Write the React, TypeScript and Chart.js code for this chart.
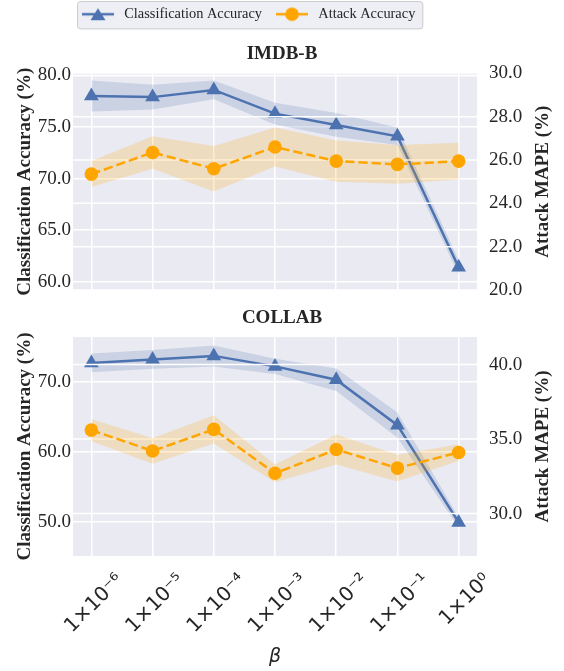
import React, { useEffect, useRef } from 'react';
import { Chart, registerables } from 'chart.js';

Chart.register(...registerables);

// ---------- data ----------
const betaLabels = ['1×10⁻⁶', '1×10⁻⁵', '1×10⁻⁴', '1×10⁻³', '1×10⁻²', '1×10⁻¹', '1×10⁰'];

const imdbCls = [78.0, 77.9, 78.6, 76.3, 75.2, 74.1, 61.4];
const imdbClsStd = [1.5, 1.2, 0.9, 1.05, 1.15, 0.85, 0.7];
const imdbAtk = [25.35, 26.35, 25.6, 26.6, 25.95, 25.8, 25.95];
const imdbAtkStd = [0.6, 0.75, 1.05, 0.9, 0.95, 0.9, 0.85];

const collabCls = [72.7, 73.2, 73.7, 72.2, 70.3, 63.8, 49.9];
const collabClsStd = [1.35, 1.35, 1.5, 1.1, 1.6, 1.8, 0.7];
const collabAtk = [35.6, 34.2, 35.65, 32.7, 34.3, 33.05, 34.1];
const collabAtkStd = [0.75, 0.85, 0.95, 0.6, 1.0, 0.9, 0.55];

const legendLabels = ['Classification Accuracy', 'Attack Accuracy'];
const leftTitle = 'Classification Accuracy (%)';
const rightTitle = 'Attack MAPE (%)';
const xTitle = 'β';

// ---------- style ----------
const BLUE = '#4C72B0';
const ORANGE = '#FFA500';
const BLUE_BAND = 'rgba(76,114,176,0.2)';
const ORANGE_BAND = 'rgba(255,165,0,0.2)';
const BG = '#EAEAF2';
const TEXT = '#262626';
const SERIF = '"Liberation Serif", "Times New Roman", serif';
const SANS = '"DejaVu Sans", sans-serif';

type Range = { min: number; max: number; step: number };

function makeSymbol(kind: 'tri' | 'circ'): HTMLCanvasElement {
  const c = document.createElement('canvas');
  c.width = 32;
  c.height = 18;
  const ctx = c.getContext('2d')!;
  const color = kind === 'tri' ? BLUE : ORANGE;
  ctx.strokeStyle = color;
  ctx.lineWidth = 2.5;
  ctx.beginPath();
  ctx.moveTo(0, 9);
  ctx.lineTo(32, 9);
  ctx.stroke();
  ctx.fillStyle = color;
  ctx.beginPath();
  if (kind === 'tri') {
    ctx.moveTo(16, 3);
    ctx.lineTo(23.5, 15);
    ctx.lineTo(8.5, 15);
    ctx.closePath();
  } else {
    ctx.arc(16, 9, 6.8, 0, Math.PI * 2);
  }
  ctx.fill();
  return c;
}

function pts(arr: number[]) {
  return arr.map((v, i) => ({ x: i, y: v }));
}
function band(arr: number[], std: number[], sign: number) {
  return arr.map((v, i) => ({ x: i, y: v + sign * std[i] }));
}

function buildChart(
  canvas: HTMLCanvasElement,
  p: {
    title: string;
    cls: number[];
    clsStd: number[];
    atk: number[];
    atkStd: number[];
    yL: Range;
    yR: Range;
    top: boolean;
  }
) {
  const decor = {
    id: 'decor',
    afterLayout(chart: any) {
      const L = chart.legend;
      if (p.top && L) {
        const w = L.right - L.left;
        L.left = 68;
        L.right = 68 + w;
        L.top -= 4;
        L.bottom -= 4;
      }
    },
    beforeDraw(chart: any) {
      const { ctx, chartArea: a } = chart;
      ctx.save();
      ctx.fillStyle = BG;
      ctx.fillRect(a.left, a.top, a.right - a.left, a.bottom - a.top);
      if (p.top && chart.legend && chart.legend.legendHitBoxes && chart.legend.legendHitBoxes.length) {
        const hb = chart.legend.legendHitBoxes;
        const x0 = hb[0].left - 2;
        const x1 = hb[hb.length - 1].left + hb[hb.length - 1].width + 7;
        const y0 = hb[0].top - 6;
        const y1 = hb[0].top + hb[0].height + 7;
        ctx.beginPath();
        (ctx as any).roundRect(x0 + 0.5, y0 + 0.5, x1 - x0, y1 - y0, 3);
        ctx.fillStyle = 'rgba(234,234,242,0.8)';
        ctx.fill();
        ctx.strokeStyle = '#CCCCCC';
        ctx.lineWidth = 1;
        ctx.stroke();
      }
      ctx.restore();
    },
    afterDatasetDraw(chart: any, args: any) {
      if (args.index !== 0) return;
      const { ctx, chartArea: a } = chart;
      const yR = chart.scales.yR;
      ctx.save();
      ctx.beginPath();
      ctx.rect(a.left, a.top, a.right - a.left, a.bottom - a.top);
      ctx.clip();
      ctx.strokeStyle = '#FFFFFF';
      ctx.lineWidth = 1.5;
      yR.ticks.forEach((t: any) => {
        const y = yR.getPixelForValue(t.value);
        ctx.beginPath();
        ctx.moveTo(a.left, y);
        ctx.lineTo(a.right, y);
        ctx.stroke();
      });
      ctx.restore();
    },
    afterDraw(chart: any) {
      const { ctx, chartArea: a } = chart;
      ctx.save();
      ctx.translate(543.5, (a.top + a.bottom) / 2);
      ctx.rotate(-Math.PI / 2);
      ctx.font = `bold 19px ${SERIF}`;
      ctx.fillStyle = TEXT;
      ctx.textAlign = 'center';
      ctx.textBaseline = 'middle';
      ctx.fillText(rightTitle, 0, 0);
      ctx.restore();
    },
  };

  const blueSym = makeSymbol('tri');
  const orangeSym = makeSymbol('circ');

  const gridOpts = { color: '#FFFFFF', lineWidth: 1.5, drawTicks: false };

  const cfg: any = {
    type: 'line',
    data: {
      datasets: [
        {
          label: legendLabels[0],
          data: pts(p.cls),
          yAxisID: 'yL',
          borderColor: BLUE,
          backgroundColor: BLUE,
          borderWidth: 2.5,
          pointStyle: 'triangle',
          pointRadius: 8.5,
          pointBackgroundColor: BLUE,
          pointBorderWidth: 0,
          fill: false,
          order: 30,
        },
        {
          label: legendLabels[1],
          data: pts(p.atk),
          yAxisID: 'yR',
          borderColor: ORANGE,
          backgroundColor: ORANGE,
          borderWidth: 2.5,
          borderDash: [9.25, 4],
          pointStyle: 'circle',
          pointRadius: 6.8,
          pointBackgroundColor: ORANGE,
          pointBorderWidth: 0,
          fill: false,
          order: 10,
        },
        {
          label: 'cls_up',
          data: band(p.cls, p.clsStd, 1),
          yAxisID: 'yL',
          borderWidth: 0,
          pointRadius: 0,
          backgroundColor: BLUE_BAND,
          fill: 3,
          order: 40,
        },
        {
          label: 'cls_lo',
          data: band(p.cls, p.clsStd, -1),
          yAxisID: 'yL',
          borderWidth: 0,
          pointRadius: 0,
          fill: false,
          order: 41,
        },
        {
          label: 'atk_up',
          data: band(p.atk, p.atkStd, 1),
          yAxisID: 'yR',
          borderWidth: 0,
          pointRadius: 0,
          backgroundColor: ORANGE_BAND,
          fill: 5,
          order: 20,
        },
        {
          label: 'atk_lo',
          data: band(p.atk, p.atkStd, -1),
          yAxisID: 'yR',
          borderWidth: 0,
          pointRadius: 0,
          fill: false,
          order: 21,
        },
      ],
    },
    options: {
      responsive: false,
      animation: false,
      events: [],
      layout: { autoPadding: false, padding: { left: 0, right: 0, top: 0, bottom: p.top ? 10 : 0 } },
      plugins: {
        tooltip: { enabled: false },
        legend: {
          display: p.top,
          position: 'top',
          align: 'start',
          weight: 3000,
          labels: {
            font: { family: SERIF, size: 14.4 },
            color: TEXT,
            padding: 11,
            usePointStyle: true,
            pointStyleWidth: 38,
            generateLabels: () => [
              {
                text: legendLabels[0],
                pointStyle: blueSym,
                fillStyle: 'transparent',
                strokeStyle: 'transparent',
                lineWidth: 0,
                hidden: false,
                datasetIndex: 0,
                fontColor: TEXT,
              },
              {
                text: legendLabels[1],
                pointStyle: orangeSym,
                fillStyle: 'transparent',
                strokeStyle: 'transparent',
                lineWidth: 0,
                hidden: false,
                datasetIndex: 1,
                fontColor: TEXT,
              },
            ],
          },
        },
        title: {
          display: true,
          text: p.title,
          weight: 500,
          color: TEXT,
          font: { family: SERIF, size: 19, weight: 'bold' },
          padding: p.top ? { top: 7, bottom: 8.2 } : { top: 6.2, bottom: 8 },
        },
      },
      scales: {
        x: {
          type: 'linear',
          min: -0.3,
          max: 6.3,
          grid: gridOpts,
          border: { display: false },
          ticks: {
            display: !p.top,
            stepSize: 1,
            includeBounds: false,
            autoSkip: false,
            minRotation: 45,
            maxRotation: 45,
            padding: 13,
            labelOffset: 29,
            color: TEXT,
            font: { family: SANS, size: 20 },
            callback: (v: number) => betaLabels[Math.round(v)] ?? '',
          },
          title: {
            display: !p.top,
            text: xTitle,
            color: TEXT,
            font: { family: SANS, size: 19, style: 'italic' },
            padding: { top: 0, bottom: 3 },
          },
          afterFit: (s: any) => {
            s.height = p.top ? 0 : 115;
            s.paddingLeft = 0;
            s.paddingRight = 0;
          },
        },
        yL: {
          type: 'linear',
          position: 'left',
          min: p.yL.min,
          max: p.yL.max,
          grid: gridOpts,
          border: { display: false },
          ticks: {
            stepSize: p.yL.step,
            includeBounds: false,
            padding: 2,
            color: TEXT,
            font: { family: SERIF, size: 19 },
            callback: (v: number) => v.toFixed(1),
          },
          title: {
            display: true,
            text: leftTitle,
            color: TEXT,
            font: { family: SERIF, size: 19, weight: 'bold' },
            padding: { top: 13.6, bottom: 0 },
          },
          afterFit: (s: any) => {
            s.width = 73;
            s.paddingTop = 0;
            s.paddingBottom = 0;
          },
        },
        yR: {
          type: 'linear',
          position: 'right',
          min: p.yR.min,
          max: p.yR.max,
          grid: { display: false, drawTicks: false },
          border: { display: false },
          ticks: {
            stepSize: p.yR.step,
            includeBounds: false,
            padding: 12,
            color: TEXT,
            font: { family: SERIF, size: 19 },
            callback: (v: number) => v.toFixed(1),
          },
          afterFit: (s: any) => {
            s.width = 87;
            s.paddingTop = 0;
            s.paddingBottom = 0;
          },
        },
      },
    },
    plugins: [decor],
  };
  return new Chart(canvas, cfg);
}

export default function App() {
  const topRef = useRef<HTMLCanvasElement>(null);
  const botRef = useRef<HTMLCanvasElement>(null);

  useEffect(() => {
    const c1 = buildChart(topRef.current!, {
      title: 'IMDB-B',
      cls: imdbCls,
      clsStd: imdbClsStd,
      atk: imdbAtk,
      atkStd: imdbAtkStd,
      yL: { min: 59.2, max: 80.2, step: 5 },
      yR: { min: 20, max: 30, step: 2 },
      top: true,
    });
    const c2 = buildChart(botRef.current!, {
      title: 'COLLAB',
      cls: collabCls,
      clsStd: collabClsStd,
      atk: collabAtk,
      atkStd: collabAtkStd,
      yL: { min: 45.1, max: 76.4, step: 10 },
      yR: { min: 27.15, max: 41.85, step: 5 },
      top: false,
    });
    return () => {
      c1.destroy();
      c2.destroy();
    };
  }, []);

  return (
    <div style={{ position: 'absolute', left: 0, top: 0, width: 564, height: 671, background: '#fff' }}>
      <canvas
        ref={topRef}
        width={564}
        height={300}
        style={{ position: 'absolute', left: 0, top: 0, width: 564, height: 300 }}
      />
      <canvas
        ref={botRef}
        width={564}
        height={371}
        style={{ position: 'absolute', left: 0, top: 300, width: 564, height: 371 }}
      />
    </div>
  );
}
